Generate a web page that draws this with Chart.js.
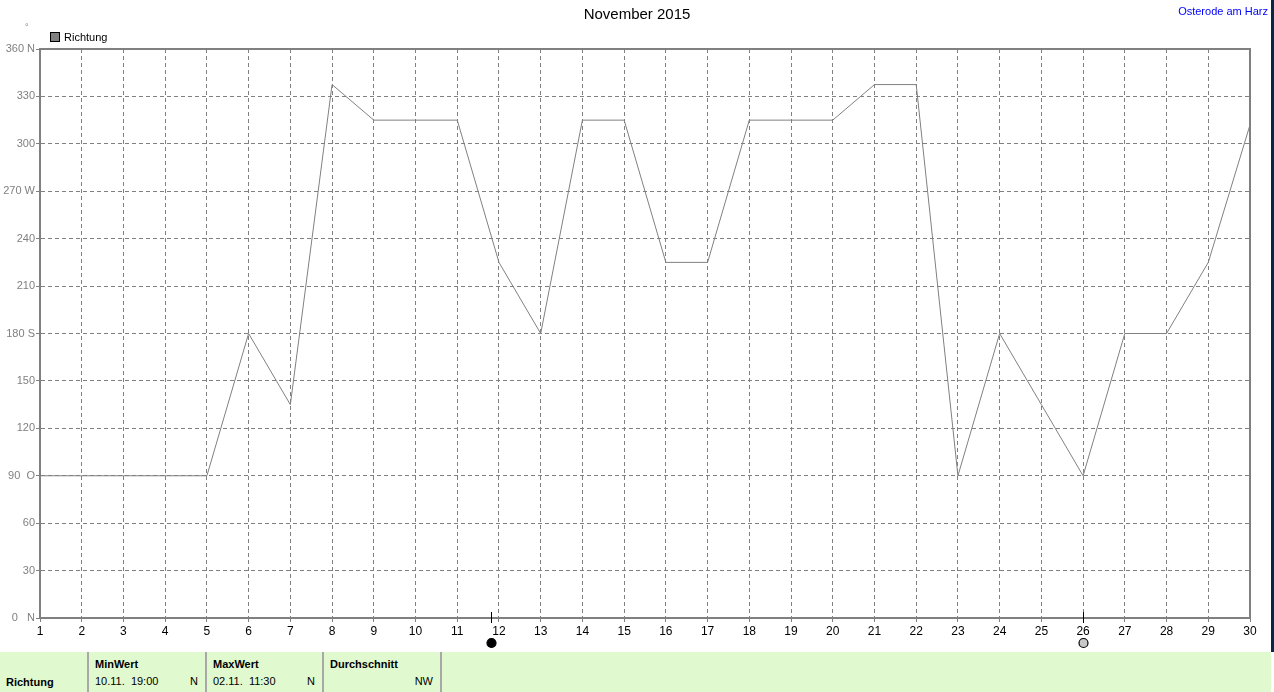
<!DOCTYPE html>
<html>
<head>
<meta charset="utf-8">
<title>Richtung November 2015</title>
<script src="https://cdn.jsdelivr.net/npm/chart.js@4/dist/chart.umd.min.js"></script>
<style>
    body { margin: 0; background: #fff; font-family: "Liberation Sans", Arial, sans-serif; }
    #wrap { position: relative; width: 1274px; height: 692px; overflow: hidden; }
    #chart { position: absolute; left: 0; top: 0; }
    .title { position: absolute; top: 5px; left: 0; width: 1274px; text-align: center; font-size: 15px; color: #000; }
    .place { position: absolute; top: 5px; right: 6px; font-size: 11px; color: #0000ff; }
    .degree { position: absolute; left: 25px; top: 22px; font-size: 9px; color: #808080; }
    .legend { position: absolute; left: 50px; top: 31px; font-size: 11px; color: #000; }
    .legend span.box { display: inline-block; width: 8px; height: 8px; background: #808080; border: 1px solid #000; margin-right: 4px; vertical-align: -1px; }
    .strip { position: absolute; right: 0; top: 0; width: 3px; height: 652px; background: #0b2545; }
    .table { position: absolute; left: 0; top: 652px; width: 1271px; height: 40px; background: #e0f9cf; font-size: 11px; }
    .col { position: absolute; top: 0; height: 40px; border-right: 2px solid #a8a8a8; box-sizing: border-box; }
    .col .head { position: absolute; left: 6px; top: 6px; font-weight: bold; }
    .col .val { position: absolute; left: 6px; top: 23px; }
    .col .unit { position: absolute; right: 7px; top: 23px; }
</style>
</head>
<body>
<div id="wrap">
    <canvas id="chart" width="1274" height="692"></canvas>
    <div class="title">November 2015</div>
    <div class="place">Osterode am Harz</div>
    <div class="degree">°</div>
    <div class="legend"><span class="box"></span>Richtung</div>
    <div class="strip"></div>
    <div class="table">
        <div class="col" style="left:0;width:89px;"><div class="val" style="font-weight:bold;top:24px;">Richtung</div></div>
        <div class="col" style="left:89px;width:118px;"><div class="head">MinWert</div><div class="val">10.11.&nbsp; 19:00</div><div class="unit">N</div></div>
        <div class="col" style="left:207px;width:117px;"><div class="head">MaxWert</div><div class="val">02.11.&nbsp; 11:30</div><div class="unit">N</div></div>
        <div class="col" style="left:324px;width:118px;"><div class="head">Durchschnitt</div><div class="unit">NW</div></div>
    </div>
</div>
<script>
// Wind direction per day, November 2015
const days = [1, 2, 3, 4, 5, 6, 7, 8, 9, 10, 11, 12, 13, 14, 15, 16, 17, 18, 19, 20, 21, 22, 23, 24, 25, 26, 27, 28, 29, 30];
const direction = [90, 90, 90, 90, 90, 180, 135, 337.5, 315, 315, 315, 225, 180, 315, 315, 225, 225, 315, 315, 315, 337.5, 337.5, 90, 180, 135, 90, 180, 180, 225, 312];
const compassLabels = { 360: '360 N', 270: '270 W', 180: '180 S', 90: '90  O', 0: '0   N' };
// moon phases: day position and kind
const moonDays = [11.8, 26];
const moonKinds = ['new', 'full'];

const GRID = '#808080';

// frame on top/right plus moon markers under the x axis
const extrasPlugin = {
    id: 'extras',
    afterDraw(chart) {
        const ctx = chart.ctx;
        const a = chart.chartArea;
        const xs = chart.scales.x;
        ctx.save();
        ctx.strokeStyle = GRID;
        ctx.lineWidth = 2;
        ctx.beginPath();
        ctx.moveTo(a.left, a.top);
        ctx.lineTo(a.right, a.top);
        ctx.lineTo(a.right, a.bottom);
        ctx.stroke();

        moonDays.forEach((d, i) => {
            const px = Math.round(xs.getPixelForValue(d)) + 0.5;
            ctx.strokeStyle = '#000';
            ctx.lineWidth = 1;
            ctx.beginPath();
            ctx.moveTo(px, a.bottom - 6);
            ctx.lineTo(px, a.bottom + 5);
            ctx.stroke();
            ctx.beginPath();
            ctx.arc(px, a.bottom + 25, 4.5, 0, Math.PI * 2);
            ctx.fillStyle = moonKinds[i] === 'new' ? '#000' : '#c8c8c8';
            ctx.fill();
            ctx.lineWidth = 1.2;
            ctx.stroke();
        });
        ctx.restore();
    }
};

function buildChart() {
    const ctx = document.getElementById('chart').getContext('2d');
    return new Chart(ctx, {
        type: 'line',
        data: {
            datasets: [{
                label: 'Richtung',
                data: days.map((d, i) => ({ x: d, y: direction[i] })),
                borderColor: '#808080',
                borderWidth: 1,
                pointRadius: 0,
                tension: 0,
                fill: false
            }]
        },
        options: {
            responsive: false,
            animation: false,
            devicePixelRatio: 1,
            layout: { padding: { top: 49, right: 24, bottom: 0, left: 0 } },
            plugins: {
                legend: { display: false },
                title: { display: false },
                tooltip: { enabled: false }
            },
            scales: {
                x: {
                    type: 'linear',
                    min: 1,
                    max: 30,
                    afterFit(scale) { scale.height = 74; },
                    ticks: {
                        stepSize: 1,
                        color: '#000',
                        padding: 2,
                        maxRotation: 0,
                        autoSkip: false,
                        font: { family: '"Liberation Sans", Arial, sans-serif', size: 12 }
                    },
                    grid: {
                        color: GRID,
                        lineWidth: 1,
                        tickLength: 4,
                        tickColor: GRID,
                        tickBorderDash: []
                    },
                    border: { display: true, color: GRID, width: 2, dash: [4, 3] }
                },
                y: {
                    min: 0,
                    max: 360,
                    afterFit(scale) { scale.width = 40; },
                    ticks: {
                        stepSize: 30,
                        color: '#808080',
                        padding: 1,
                        font: { family: '"Liberation Sans", Arial, sans-serif', size: 11 },
                        callback: v => compassLabels[v] !== undefined ? compassLabels[v] : String(v)
                    },
                    grid: {
                        color: GRID,
                        lineWidth: 1,
                        tickLength: 4,
                        tickColor: GRID,
                        tickBorderDash: []
                    },
                    border: { display: true, color: GRID, width: 2, dash: [4, 3] }
                }
            }
        },
        plugins: [extrasPlugin]
    });
}

document.addEventListener('DOMContentLoaded', buildChart);
</script>
</body>
</html>
